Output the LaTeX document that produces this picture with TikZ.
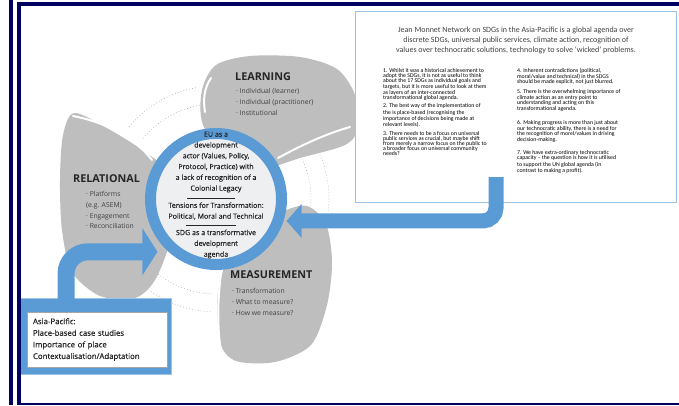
\documentclass[tikz,border=0pt]{standalone}
\usepackage{fontspec}
\setmainfont{Open Sans}
\newfontfamily\boxfont{Carlito}
\newfontfamily\hubfont[FakeBold=0.6]{Open Sans}
\usetikzlibrary{positioning,arrows.meta}

\definecolor{navy}{RGB}{0,0,96}
\definecolor{flowblue}{RGB}{91,155,213}
\definecolor{edgeblue}{RGB}{157,195,230}
\definecolor{petalgray}{RGB}{190,190,190}
\definecolor{hubfill}{RGB}{238,239,241}
\definecolor{inkgray}{RGB}{38,38,38}

\tikzset{
  petal/.style={fill=petalgray},
  shine/.style={draw=white, line width=2pt, line cap=round},
  dots/.style={draw=gray!65, line width=0.9pt, dash pattern=on 0pt off 3pt, line cap=round},
  hub/.style={circle, draw=flowblue, line width=11pt, fill=hubfill, minimum size=131pt, inner sep=0pt},
  hubtext/.style={inner sep=0pt, align=center, font=\hubfont\fontsize{7.1}{10.8}\selectfont, text=inkgray},
  hubrule/.style={draw=inkgray, line width=0.6pt},
  phead/.style={inner sep=0pt, anchor=west, font=\fontsize{10.8}{12}\selectfont\bfseries, text=inkgray},
  pitems/.style={inner sep=0pt, align=left, font=\fontsize{6.8}{10.8}\selectfont, text=black!75},
  jmnbox/.style={draw=edgeblue, line width=1.2pt, fill=white, minimum width=321pt, minimum height=191pt, inner sep=0pt},
  jmntitle/.style={inner sep=0pt, align=center, font=\boxfont\fontsize{8}{10}\selectfont, text=black!75},
  jmncol/.style={inner sep=0pt, align=left, font=\boxfont\fontsize{5.8}{5}\selectfont, text=black},
  asiaframe/.style={fill=flowblue, draw=edgeblue, line width=0.8pt, minimum width=151pt, minimum height=76pt, outer sep=0pt},
  asiabox/.style={draw=gray!70, line width=0.6pt, fill=white, minimum width=140pt, minimum height=55pt, text width=128pt, inner sep=0pt, align=left, font=\hubfont\fontsize{7.8}{11.6}\selectfont, text=inkgray},
  flow/.style={draw=flowblue}
}

\begin{document}
\begin{tikzpicture}[x=1pt,y=-1pt]
\useasboundingbox (0,0) rectangle (679,405);
\fill[white] (0,0) rectangle (679,405);
\coordinate (mid) at (216,199);

\foreach \r in {95,113}{
  \draw[dots] (mid) ++(-140:\r) arc[start angle=-140, end angle=-100, radius=\r];
  \draw[dots] (mid) ++(93:\r) arc[start angle=93, end angle=128, radius=\r];
  \draw[dots] (mid) ++(-32:\r) arc[start angle=-32, end angle=35, radius=\r];
}

\fill[petal] plot[smooth cycle] coordinates {(230,160) (203,125) (202,90) (216,65) (250,56) (300,57) (337,69) (355,95) (358,128) (345,145) (300,158) (265,168)};
\fill[petal] plot[smooth cycle] coordinates {(175,180) (145,152) (105,127) (74,113) (63,135) (60,180) (62,230) (72,272) (100,296) (135,298) (155,280) (170,240)};
\fill[petal] plot[smooth cycle] coordinates {(255,232) (282,212) (307,206) (326,224) (332,262) (327,305) (311,345) (275,362) (236,361) (220,342) (218,292) (230,255)};

\draw[shine] (211,78) .. controls (204,88) and (203,100) .. (205,112);
\draw[shine] (278,158) .. controls (300,146) and (325,134) .. (350,127);
\draw[shine] (73,116) .. controls (105,122) and (135,138) .. (152,160);
\draw[shine] (226,247) .. controls (218,280) and (216,320) .. (221,352);

\node[hub] (hub) at (mid) {};
\node[hubtext] (hubtop) at (216,162) {EU as a\\development\\actor (Values, Policy,\\Protocol, Practice) with\\a lack of recognition of a\\Colonial Legacy};
\node[hubtext] (hubmid) at (216,211) {Tensions for Transformation:\\Political, Moral and Technical};
\node[hubtext] (hubbot) at (216,244) {SDG as a transformative\\development\\agenda};
\draw[hubrule] (187,198) -- (235,198);
\draw[hubrule] (186,225) -- (236,225);

\node[phead] (learnhead) at (235,77) {LEARNING};
\node[pitems, below right=7pt and 1pt of learnhead.south west] (learnitems) {· Individual (learner)\\· Individual (practitioner)\\· Institutional};
\node[phead] (relhead) at (73,179) {RELATIONAL};
\node[pitems, below right=8pt and 13pt of relhead.south west] (relitems) {· Platforms\\(e.g. ASEM)\\· Engagement\\· Reconciliation};
\node[phead] (meashead) at (230,275) {MEASUREMENT};
\node[pitems, below right=9pt and 2pt of meashead.south west] (measitems) {· Transformation\\· What to measure?\\· How we measure?};

\node[jmnbox] (jmn) at (516,107) {};
\node[jmntitle, below=16pt of jmn.north] (jmnhead) {Jean Monnet Network on SDGs in the Asia-Pacific is a global agenda over\\discrete SDGs, universal public services, climate action, recognition of\\values over technocratic solutions, technology to solve ‘wicked’ problems.};
\node[jmncol, below right=57pt and 28pt of jmn.north west] (colA) {1. Whilst it was a historical achievement to\\adopt the SDGs, it is not as useful to think\\about the 17 SDGs as individual goals and\\targets, but it is more useful to look at them\\as layers of an inter-connected\\transformational global agenda.\\[2.7pt]
2. The best way of the implementation of\\the is place-based (recognising the\\importance of decisions being made at\\relevant levels).\\[3.7pt]
3. There needs to be a focus on universal\\public services as crucial, but maybe shift\\from merely a narrow focus on the public to\\a broader focus on universal community\\needs?};
\node[jmncol, below right=57pt and 162pt of jmn.north west] (colB) {4. Inherent contradictions (political,\\moral/value and technical) in the SDGS\\should be made explicit, not just blurred.\\[3.6pt]
5. There is the overwhelming importance of\\climate action as an entry point to\\understanding and acting on this\\transformational agenda.\\[8.3pt]
6. Making progress is more than just about\\our technocratic ability, there is a need for\\the recognition of morel/values in driving\\decision-making.\\[7.3pt]
7. We have extra-ordinary technocratic\\capacity – the question is how it is utilised\\to support the UN global agenda (in\\contrast to making a profit).};

\coordinate (jmnout) at (496,177);
\coordinate (hubright) at ([xshift=3pt]hub.-18);
\draw[flow, line width=15pt, rounded corners=13pt, -{Triangle[length=15pt,width=33pt]}] (jmnout) |- (hubright);

\node[asiaframe] (asiaframe) at (96,336.5) {};
\node[asiabox] (asia) at (97,339.5) {Asia-Pacific:\\Place-based case studies\\Importance of place\\Contextualisation/Adaptation};
\coordinate (asiaout) at ([xshift=-30pt,yshift=-2pt]asiaframe.north);
\coordinate (hubleft) at ([xshift=-11pt]hub.-132);
\draw[flow, line width=17pt, rounded corners=22pt, -{Triangle[length=15pt,width=46pt]}] (asiaout) |- (hubleft);

\fill[navy] (9,0) rectangle (13,405);
\fill[navy] (17,3) rectangle (21,404);
\fill[navy] (17,2) rectangle (679,6);
\fill[navy] (17,402.5) rectangle (679,404.5);
\end{tikzpicture}
\end{document}
